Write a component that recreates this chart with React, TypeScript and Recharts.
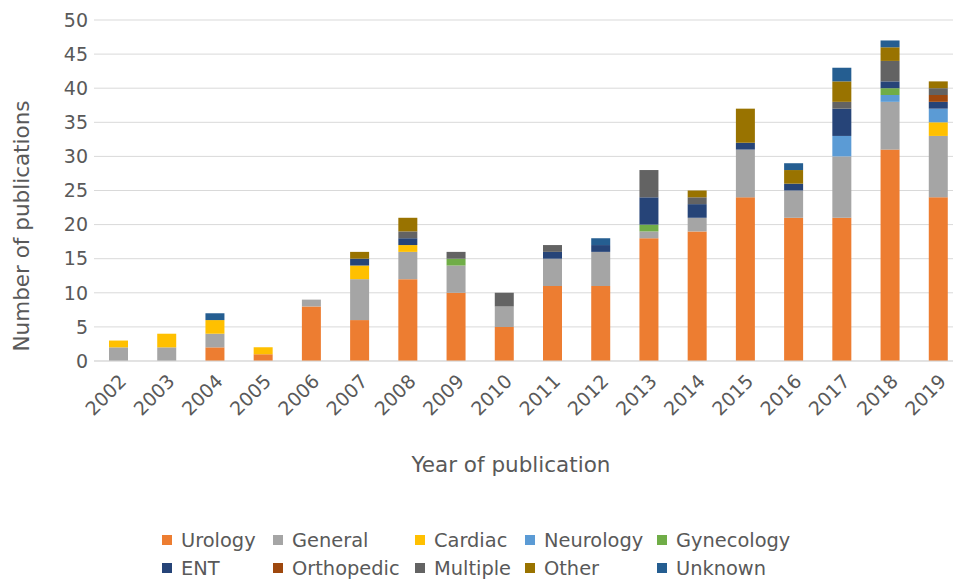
import { BarChart, Bar, XAxis, YAxis, CartesianGrid } from "recharts";

const years = ["2002", "2003", "2004", "2005", "2006", "2007", "2008", "2009", "2010", "2011", "2012", "2013", "2014", "2015", "2016", "2017", "2018", "2019"];

const urology = [0, 0, 2, 1, 8, 6, 12, 10, 5, 11, 11, 18, 19, 24, 21, 21, 31, 24];
const general = [2, 2, 2, 0, 1, 6, 4, 4, 3, 4, 5, 1, 2, 7, 4, 9, 7, 9];
const cardiac = [1, 2, 2, 1, 0, 2, 1, 0, 0, 0, 0, 0, 0, 0, 0, 0, 0, 2];
const neurology = [0, 0, 0, 0, 0, 0, 0, 0, 0, 0, 0, 0, 0, 0, 0, 3, 1, 2];
const gynecology = [0, 0, 0, 0, 0, 0, 0, 1, 0, 0, 0, 1, 0, 0, 0, 0, 1, 0];
const ent = [0, 0, 0, 0, 0, 1, 1, 0, 0, 1, 1, 4, 2, 1, 1, 4, 1, 1];
const orthopedic = [0, 0, 0, 0, 0, 0, 0, 0, 0, 0, 0, 0, 0, 0, 0, 0, 0, 1];
const multiple = [0, 0, 0, 0, 0, 0, 1, 1, 2, 1, 0, 4, 1, 0, 0, 1, 3, 1];
const other = [0, 0, 0, 0, 0, 1, 2, 0, 0, 0, 0, 0, 1, 5, 2, 3, 2, 1];
const unknown = [0, 0, 1, 0, 0, 0, 0, 0, 0, 0, 1, 0, 0, 0, 1, 2, 1, 0];

const yTicks = [0, 5, 10, 15, 20, 25, 30, 35, 40, 45, 50];

const series = [
  { key: "Urology", values: urology, color: "#ED7D31" },
  { key: "General", values: general, color: "#A5A5A5" },
  { key: "Cardiac", values: cardiac, color: "#FFC000" },
  { key: "Neurology", values: neurology, color: "#5B9BD5" },
  { key: "Gynecology", values: gynecology, color: "#70AD47" },
  { key: "ENT", values: ent, color: "#264478" },
  { key: "Orthopedic", values: orthopedic, color: "#9E480E" },
  { key: "Multiple", values: multiple, color: "#636363" },
  { key: "Other", values: other, color: "#997300" },
  { key: "Unknown", values: unknown, color: "#255E91" },
];

const data = years.map((year, i) => {
  const row: Record<string, string | number> = { year };
  series.forEach((s) => {
    row[s.key] = s.values[i];
  });
  return row;
});

const textColor = "#595959";
const font = "DejaVu Sans";

// legend columns (x of the swatch) and rows (y)
const legendCols = [162, 273, 415, 525, 657];
const legendRows = [540, 568];

export default function App() {
  return (
    <div
      style={{
        position: "absolute",
        left: 0,
        top: 0,
        width: 953,
        height: 580,
        overflow: "hidden",
        background: "#fff",
        fontFamily: font,
      }}
    >
      <BarChart width={962} height={520} data={data} margin={{ top: 20, right: 0, left: 0, bottom: 0 }}>
        <CartesianGrid vertical={false} stroke="#D9D9D9" />
        <XAxis
          dataKey="year"
          height={159}
          interval={0}
          tickLine={false}
          axisLine={{ stroke: "#D9D9D9" }}
          angle={-45}
          textAnchor="end"
          tickMargin={6}
          tick={{ fill: textColor, fontSize: 19, fontFamily: font }}
          label={{
            content: () => (
              <text x={511} y={472} textAnchor="middle" fill={textColor} fontSize={21.5} fontFamily={font}>
                Year of publication
              </text>
            ),
          }}
        />
        <YAxis
          width={94}
          domain={[0, 50]}
          ticks={yTicks}
          interval={0}
          tickLine={false}
          axisLine={false}
          tickSize={0}
          tickMargin={6}
          tick={{ fill: textColor, fontSize: 19, fontFamily: font }}
          label={{
            content: () => (
              <text
                x={29}
                y={226}
                transform="rotate(-90 29 226)"
                textAnchor="middle"
                fill={textColor}
                fontSize={21.5}
                fontFamily={font}
              >
                Number of publications
              </text>
            ),
          }}
        />
        {series.map((s) => (
          <Bar key={s.key} dataKey={s.key} stackId="a" fill={s.color} barSize={19} isAnimationActive={false} />
        ))}
      </BarChart>
      {series.map((s, i) => {
        const col = i % 5;
        const row = Math.floor(i / 5);
        return (
          <div
            key={s.key}
            style={{
              position: "absolute",
              left: legendCols[col],
              top: legendRows[row] - 12,
              height: 24,
              display: "flex",
              alignItems: "center",
              color: textColor,
              fontSize: 19.4,
              whiteSpace: "nowrap",
            }}
          >
            <span style={{ display: "inline-block", width: 10, height: 10, background: s.color, marginRight: 9 }} />
            {s.key}
          </div>
        );
      })}
    </div>
  );
}
